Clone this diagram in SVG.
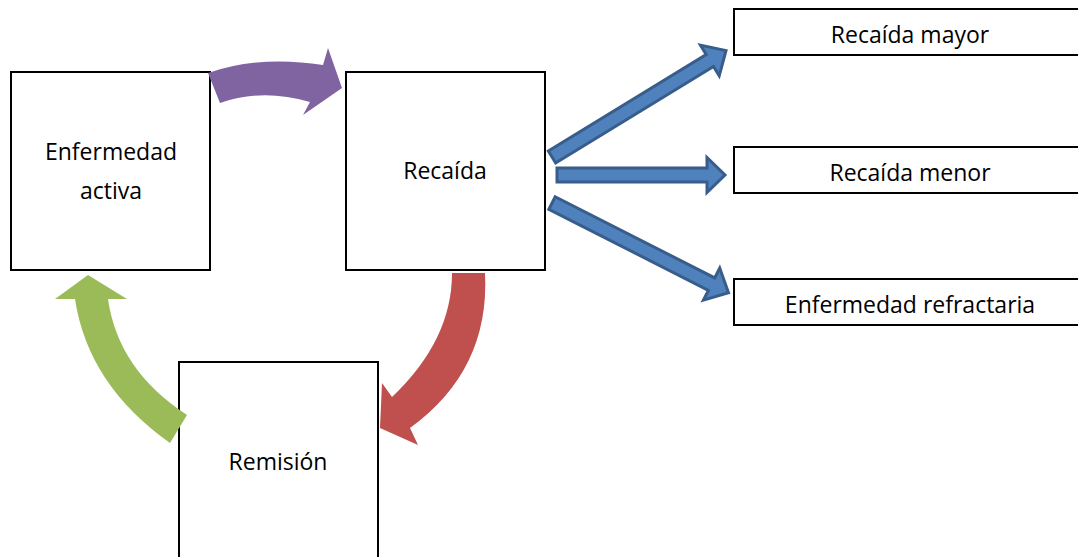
<svg xmlns="http://www.w3.org/2000/svg" width="1078" height="557" viewBox="0 0 1078 557">
<style>
.box{fill:#fff;stroke:#000;stroke-width:2}
.t{font-family:"Open Sans","Liberation Sans",sans-serif;font-size:23px;fill:#000;text-anchor:middle}
.blue{fill:#4f81bd;stroke:#385d8a;stroke-width:3;stroke-linejoin:miter}
</style>
<rect width="1078" height="557" fill="#fff"/>
<g id="n-activa"><rect class="box" x="11" y="72" width="199" height="198"/><text class="t" x="111" y="160">Enfermedad</text><text class="t" x="111" y="199">activa</text></g>
<g id="n-recaida"><rect class="box" x="346" y="72" width="199" height="198"/><text class="t" x="445" y="179">Recaída</text></g>
<g id="n-remision"><rect class="box" x="179" y="362" width="199" height="210"/><text class="t" x="278" y="470">Remisión</text></g>
<g id="n-mayor"><rect class="box" x="734" y="9" width="360" height="46"/><text class="t" x="910" y="43">Recaída mayor</text></g>
<g id="n-menor"><rect class="box" x="734" y="147" width="360" height="46"/><text class="t" x="910" y="181">Recaída menor</text></g>
<g id="n-refractaria"><rect class="box" x="734" y="279" width="360" height="46"/><text class="t" x="910" y="313">Enfermedad refractaria</text></g>
<g id="connectors">
<path fill="#8064a2" d="M208,73 Q260,55 323,65 L328,48 L342,88 L303,115 L310,102 Q262,88 220,103 Z"/>
<path fill="#c0504d" d="M452,273 L485,273 Q490,370 410,428 L418,445 L380,428 L382,383 L392,397 Q452,340 452,273 Z"/>
<path fill="#9bbb59" d="M187,415 L170,443 Q88,385 75,299 L55,299 L88,275 L127,299 L108,299 Q118,370 187,415 Z"/>
<g class="blue">
<path transform="translate(552,157) rotate(-31.45)" d="M0,-7 L185,-7 L185,-18 L204,0 L185,18 L185,7 L0,7 Z"/>
<path transform="translate(557,175)" d="M0,-7 L150,-7 L150,-17.5 L168,0 L150,17.5 L150,7 L0,7 Z"/>
<path transform="translate(552,203) rotate(26.95)" d="M0,-7 L179,-7 L179,-18 L198,0 L179,18 L179,7 L0,7 Z"/>
</g>
</g>
</svg>
